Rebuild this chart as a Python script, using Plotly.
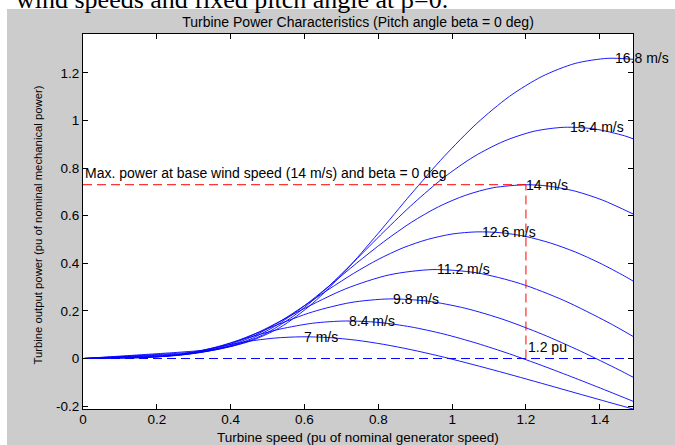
import plotly.graph_objects as go

# ---------------- data ----------------
speed_labels = ["7 m/s", "8.4 m/s", "9.8 m/s", "11.2 m/s", "12.6 m/s", "14 m/s", "15.4 m/s", "16.8 m/s"]

x_7 = [0, 0.0741, 0.1481, 0.2222, 0.2963, 0.3704, 0.4444, 0.5185, 0.5926, 0.6667, 0.7407,
       0.8148, 0.8889, 0.9630, 1.0370, 1.1111, 1.1852, 1.2593, 1.3333, 1.4074, 1.49]
p_7 = [0, 0.0013, 0.0029, 0.0094, 0.0267, 0.0500, 0.0714, 0.0858, 0.0912, 0.0879, 0.0768,
       0.0594, 0.0371, 0.0112, -0.0174, -0.0478, -0.0793, -0.1115, -0.1439, -0.1762, -0.2120]

x_84 = [0, 0.0889, 0.1778, 0.2667, 0.3111, 0.3556, 0.4, 0.4444, 0.5333, 0.6222, 0.7111, 0.8,
        0.8889, 0.9778, 1.0667, 1.1556, 1.2444, 1.3333, 1.4222, 1.49]
p_84 = [0, 0.0022, 0.0050, 0.0163, 0.0290, 0.0461, 0.0658, 0.0864, 0.1234, 0.1482, 0.1576, 0.1518,
        0.1326, 0.1027, 0.0642, 0.0194, -0.0300, -0.0825, -0.1370, -0.1794]

x_98 = [0, 0.1037, 0.2074, 0.2593, 0.3111, 0.3630, 0.4148, 0.4667, 0.5185, 0.6222, 0.7259,
        0.8296, 0.9333, 1.0370, 1.1407, 1.2444, 1.3481, 1.4519, 1.49]
p_98 = [0, 0.0035, 0.0079, 0.0136, 0.0258, 0.0460, 0.0731, 0.1045, 0.1371, 0.1960, 0.2353,
        0.2503, 0.2411, 0.2106, 0.1630, 0.1019, 0.0308, -0.0476, -0.0783]

x_112 = [0, 0.1185, 0.2370, 0.2963, 0.3556, 0.4148, 0.4741, 0.5333, 0.5926, 0.7111, 0.8296,
         0.9481, 1.0667, 1.1852, 1.3037, 1.4222, 1.49]
p_112 = [0, 0.0053, 0.0118, 0.0203, 0.0385, 0.0687, 0.1092, 0.1560, 0.2047, 0.2926, 0.3513,
         0.3736, 0.3599, 0.3144, 0.2433, 0.1522, 0.0930]

x_126 = [0, 0.0667, 0.1333, 0.2, 0.2667, 0.3333, 0.4, 0.4667, 0.5333, 0.6, 0.6667, 0.7333, 0.8,
         0.8667, 0.9333, 1.0, 1.0667, 1.1333, 1.2, 1.2667, 1.3333, 1.4, 1.4667, 1.49]
p_126 = [0, 0.0038, 0.0075, 0.0114, 0.0167, 0.0289, 0.0549, 0.0978, 0.1554, 0.2221, 0.2915, 0.3577,
         0.4165, 0.4647, 0.5001, 0.5229, 0.5319, 0.5282, 0.5124, 0.4850, 0.4477, 0.4010, 0.3465, 0.3256]

x_14 = [0, 0.0741, 0.1481, 0.2222, 0.2963, 0.3704, 0.4444, 0.5185, 0.5926, 0.6667, 0.7407, 0.8148,
        0.8889, 0.9630, 1.0370, 1.1111, 1.2, 1.2593, 1.3333, 1.4074, 1.49]
p_14 = [0, 0.0052, 0.0103, 0.0157, 0.0230, 0.0397, 0.0753, 0.1341, 0.2132, 0.3046, 0.3998, 0.4906,
        0.5714, 0.6374, 0.6860, 0.7172, 0.7298, 0.7245, 0.7029, 0.6654, 0.6073]

x_154 = [0, 0.0815, 0.1630, 0.2444, 0.3259, 0.4074, 0.4889, 0.5704, 0.6519, 0.7333, 0.8148, 0.8963,
         0.9778, 1.0593, 1.1407, 1.2222, 1.3037, 1.3852, 1.4667, 1.49]
p_154 = [0, 0.0069, 0.0138, 0.0208, 0.0306, 0.0528, 0.1002, 0.1785, 0.2838, 0.4055, 0.5322, 0.6530,
         0.7605, 0.8484, 0.9131, 0.9546, 0.9712, 0.9643, 0.9356, 0.9230]

x_168 = [0, 0.0889, 0.1778, 0.2667, 0.3556, 0.4444, 0.5333, 0.6222, 0.7111, 0.8, 0.8889, 0.9778,
         1.0667, 1.1556, 1.2444, 1.3333, 1.4222, 1.49]
p_168 = [0, 0.0089, 0.0179, 0.0271, 0.0397, 0.0686, 0.1301, 0.2318, 0.3684, 0.5264, 0.6909, 0.8478,
         0.9873, 1.1014, 1.1855, 1.2394, 1.2609, 1.2567]

# label anchor points (curve maxima)
label_x = [0.60, 0.72, 0.84, 0.96, 1.08, 1.20, 1.32, 1.44]
label_y = [0.091, 0.158, 0.250, 0.374, 0.532, 0.730, 0.971, 1.261]

base_speed = 1.2
base_power = 0.73
x_max = 1.49

x_ticks = [0, 0.2, 0.4, 0.6, 0.8, 1.0, 1.2, 1.4]
x_tick_text = ["0", "0.2", "0.4", "0.6", "0.8", "1", "1.2", "1.4"]
y_ticks = [-0.2, 0, 0.2, 0.4, 0.6, 0.8, 1.0, 1.2]
y_tick_text = ["-0.2", "0", "0.2", "0.4", "0.6", "0.8", "1", "1.2"]

curves = [(x_7, p_7), (x_84, p_84), (x_98, p_98), (x_112, p_112),
          (x_126, p_126), (x_14, p_14), (x_154, p_154), (x_168, p_168)]

FONT = "Liberation Sans, Arial, sans-serif"
FS = 14
BLUE = "#0000ff"
RED = "#ff0000"

fig = go.Figure()

for (xs, ys), name in zip(curves, speed_labels):
    fig.add_trace(go.Scatter(x=xs, y=ys, mode="lines", name=name,
                             line=dict(color=BLUE, width=0.9, shape="spline", smoothing=0.8),
                             hoverinfo="skip"))

# zero line (blue dashed)
fig.add_trace(go.Scatter(x=[0, x_max], y=[0, 0], mode="lines",
                         line=dict(color=BLUE, width=1, dash="9px,5px"), hoverinfo="skip"))
# max power lines (red dashed)
fig.add_trace(go.Scatter(x=[0, base_speed], y=[base_power, base_power], mode="lines",
                         line=dict(color=RED, width=1, dash="9px,5px"), hoverinfo="skip"))
fig.add_trace(go.Scatter(x=[base_speed, base_speed], y=[0, base_power], mode="lines",
                         line=dict(color=RED, width=1, dash="9px,5px"), hoverinfo="skip"))

annotations = []
for lx, ly, txt in zip(label_x, label_y, speed_labels):
    annotations.append(dict(x=lx, y=ly, xref="x", yref="y", text=txt, showarrow=False,
                            xanchor="left", yanchor="middle", xshift=-2,
                            font=dict(family=FONT, size=FS, color="black")))

annotations.append(dict(x=0, y=0.78, xref="x", yref="y",
                        text="Max. power at base wind speed (14 m/s) and beta = 0 deg",
                        showarrow=False, xanchor="left", yanchor="middle",
                        font=dict(family=FONT, size=FS, color="black")))
annotations.append(dict(x=base_speed, y=0.048, xref="x", yref="y", text="1.2 pu",
                        showarrow=False, xanchor="left", yanchor="middle",
                        font=dict(family=FONT, size=FS, color="black")))

# axis titles
annotations.append(dict(x=0.5, y=(409 - 437.5) / 375, xref="paper", yref="paper",
                        text="Turbine speed (pu of nominal generator speed)",
                        showarrow=False, xanchor="center", yanchor="middle",
                        font=dict(family=FONT, size=13.5, color="black")))
annotations.append(dict(x=-0.0827, y=0.4907, xref="paper", yref="paper",
                        text="Turbine output power (pu of nominal mechanical power)",
                        showarrow=False, xanchor="center", yanchor="middle", textangle=-90,
                        font=dict(family=FONT, size=11.3, color="black")))

# cut-off caption text from the source document (top strip)
annotations.append(dict(x=0.6673, y=1.0493, xref="paper", yref="paper",
                        text="wind speeds and fixed pitch angle at β=0.",
                        showarrow=False, xanchor="right", yanchor="bottom",
                        font=dict(family="Liberation Serif, Times New Roman, serif", size=26,
                                  color="black")))

shapes = [
    # white strip at the top
    dict(type="rect", xref="paper", yref="paper", x0=-0.3, x1=1.3, y0=1.0667, y1=1.3,
         fillcolor="white", line=dict(width=0), layer="above"),
    # white strip at the left
    dict(type="rect", xref="paper", yref="paper", x0=-0.3, x1=-0.1382, y0=-0.3, y1=1.3,
         fillcolor="white", line=dict(width=0), layer="above"),
]

fig.update_layout(
    width=675, height=445,
    margin=dict(l=83, r=42, t=34, b=36),
    paper_bgcolor="#cccccc",
    plot_bgcolor="white",
    showlegend=False,
    title=dict(text="Turbine Power Characteristics (Pitch angle beta = 0 deg)",
               x=0.5, xref="paper", xanchor="center",
               y=1 - 22.5 / 445, yref="container", yanchor="middle",
               font=dict(family=FONT, size=FS, color="black")),
    annotations=annotations,
    shapes=shapes,
    font=dict(family=FONT, size=FS, color="black"),
)

fig.update_xaxes(range=[0, x_max], tickvals=x_ticks, ticktext=x_tick_text,
                 showgrid=False, zeroline=False, showline=True, linecolor="black", linewidth=1,
                 mirror="ticks", ticks="inside", ticklen=5, tickcolor="black",
                 ticklabelstandoff=-2,
                 tickfont=dict(family=FONT, size=13.5, color="black"))
fig.update_yaxes(range=[-0.212, 1.363], tickvals=y_ticks, ticktext=y_tick_text,
                 showgrid=False, zeroline=False, showline=True, linecolor="black", linewidth=1,
                 mirror="ticks", ticks="inside", ticklen=5, tickcolor="black",
                 tickfont=dict(family=FONT, size=13.5, color="black"))

fig.write_html("out.html", config={"displayModeBar": False},
               post_script="document.body.style.margin='0';document.body.style.overflow='hidden';")
